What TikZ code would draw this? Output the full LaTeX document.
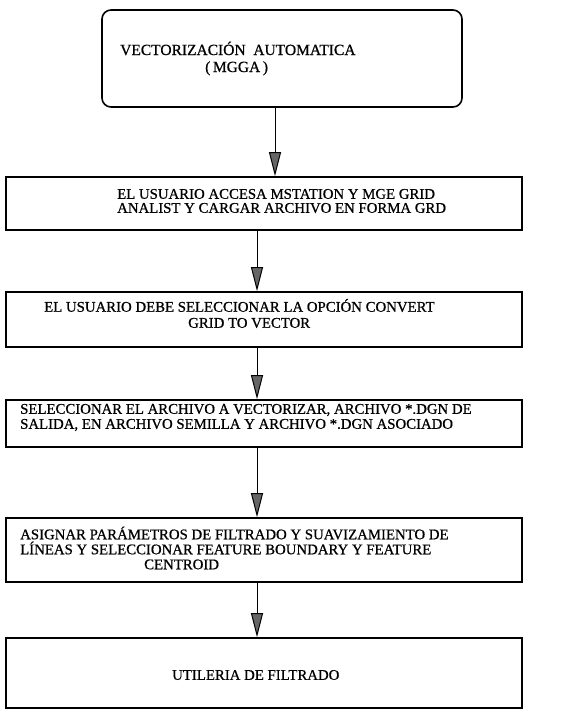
\documentclass[tikz,border=0pt]{standalone}
\usepackage{fontspec}
\setmainfont{Liberation Serif}[FakeBold=0.7]
\usetikzlibrary{arrows.meta,calc}

\tikzset{
  caja/.style={draw=black,line width=1.6pt,minimum width=516pt,inner sep=0pt},
  texto/.style={anchor=west,align=left,inner sep=0pt,font=\fontsize{14.8}{15}\selectfont},
  flecha/.style={draw=black,line width=1pt,-{Triangle[width=12pt,length=24pt,fill=black!60]}},
}

\begin{document}
\begin{tikzpicture}[x=1pt,y=-1pt]
  \useasboundingbox (0,0) rectangle (561,716);
  % cajas
  \node[caja,rounded corners=9pt,minimum width=360pt,minimum height=97pt] (c1) at (282,58.5) {};
  \node[caja,minimum height=53pt] (c2) at (264,203.5) {};
  \node[caja,minimum height=55pt] (c3) at (264,319.5) {};
  \node[caja,minimum height=47pt] (c4) at (264,423.5) {};
  \node[caja,minimum height=64pt] (c5) at (264,550) {};
  \node[caja,minimum height=70pt] (c6) at (264,673) {};
  % textos
  \node[texto,font=\fontsize{15.5}{17}\selectfont] (t1) at (120,58.5)
    {VECTORIZACIÓN\ \ AUTOMATICA\\\hspace*{85pt}(\,MGGA\,)};
  \node[texto,font=\fontsize{14.8}{14}\selectfont] (t2) at (117,201)
    {EL USUARIO ACCESA MSTATION Y MGE GRID\\ANALIST Y CARGAR ARCHIVO EN FORMA GRD};
  \node[texto,font=\fontsize{14.8}{16}\selectfont] (t3) at (44,313.5)
    {EL USUARIO DEBE SELECCIONAR LA OPCIÓN CONVERT\\\hspace*{144pt}GRID TO VECTOR};
  \node[texto] (t4) at (20,417.5)
    {SELECCIONAR EL ARCHIVO A VECTORIZAR, ARCHIVO *.DGN DE\\SALIDA, EN ARCHIVO SEMILLA Y ARCHIVO *.DGN ASOCIADO};
  \node[texto] (t5) at (20,548)
    {ASIGNAR PARÁMETROS DE FILTRADO Y SUAVIZAMIENTO DE\\LÍNEAS Y SELECCIONAR FEATURE BOUNDARY Y FEATURE\\\hspace*{124pt}CENTROID};
  \node[texto] (t6) at (172,675) {UTILERIA DE FILTRADO};
  % flechas
  \draw[flecha] ([xshift=-7pt]c1.south) -- ([xshift=-7pt]c1.south |- c2.north);
  \foreach \a/\b in {c2/c3,c3/c4,c4/c5,c5/c6}
    \draw[flecha] ([xshift=-7pt]\a.south) -- ([xshift=-7pt]\b.north);
\end{tikzpicture}
\end{document}
